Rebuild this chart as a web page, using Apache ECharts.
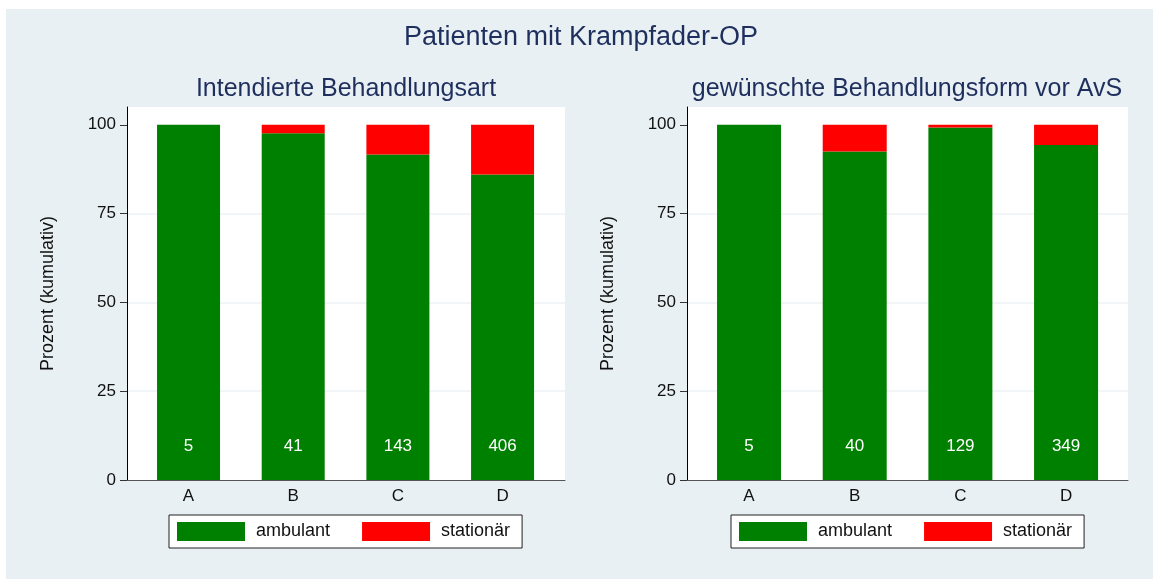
<!DOCTYPE html>
<html>
<head>
<meta charset="utf-8">
<title>Patienten mit Krampfader-OP</title>
<script src="https://cdn.jsdelivr.net/npm/echarts@6/dist/echarts.min.js"></script>
<style>
  html, body { margin: 0; padding: 0; background: #ffffff; }
  #chart { width: 1153px; height: 579px; }
</style>
</head>
<body>
<div id="chart"></div>
<script>
// Groups on the horizontal axis
const categories = ['A', 'B', 'C', 'D'];
const yTicks = [0, 25, 50, 75, 100];

// Panel 1: intended type of treatment (percent, cumulative)
const intAmbulant = [100, 97.6, 91.6, 86.0];
const intStationaer = [0, 2.4, 8.4, 14.0];
const intCounts = [5, 41, 143, 406];

// Panel 2: preferred treatment before AvS (percent, cumulative)
const wunschAmbulant = [100, 92.5, 99.2, 94.3];
const wunschStationaer = [0, 7.5, 0.8, 5.7];
const wunschCounts = [5, 40, 129, 349];

const FONT = '"Liberation Sans", Arial, Helvetica, sans-serif';
const NAVY = '#1e2f5e';
const GREEN = '#008000';
const RED = '#ff0000';
const BG = '#e9f0f3';

const chart = echarts.init(document.getElementById('chart'), null, { renderer: 'canvas' });

// Each panel: a white plot frame carrying the y axis, plus an inner band for the bars
const TOP = 107, HEIGHT = 373;
const panels = [
  { frameLeft: 127, frameWidth: 438, barLeft: 136.2, barWidthPx: 418.7, bar: 63 },
  { frameLeft: 687, frameWidth: 441, barLeft: 696.2, barWidthPx: 422.7, bar: 64 }
];

const grid = [];
const xAxis = [];
const yAxis = [];

panels.forEach((p, k) => {
  // frame grid (index 2k)
  grid.push({ left: p.frameLeft, top: TOP, width: p.frameWidth, height: HEIGHT, show: true, backgroundColor: '#ffffff', borderWidth: 0 });
  // bar grid (index 2k + 1)
  grid.push({ left: p.barLeft, top: TOP, width: p.barWidthPx, height: HEIGHT, show: false });

  xAxis.push({
    type: 'category', gridIndex: 2 * k, data: categories,
    axisLine: { show: true, lineStyle: { color: '#555555', width: 1 } },
    axisTick: { show: false }, axisLabel: { show: false }, splitLine: { show: false }
  });
  xAxis.push({
    type: 'category', gridIndex: 2 * k + 1, data: categories,
    axisLine: { show: false }, axisTick: { show: false }, splitLine: { show: false },
    axisLabel: { fontFamily: FONT, fontSize: 17, color: '#111111', margin: 8 }
  });

  yAxis.push({
    type: 'value', gridIndex: 2 * k, min: 0, max: 105,
    name: 'Prozent (kumulativ)', nameLocation: 'middle', nameGap: 70,
    nameTextStyle: { fontFamily: FONT, fontSize: 18, color: '#111111' },
    axisLine: { show: true, onZero: false, lineStyle: { color: '#000000', width: 1 } },
    axisTick: { show: true, length: 7, customValues: yTicks, lineStyle: { color: '#333333' } },
    axisLabel: { customValues: yTicks, fontFamily: FONT, fontSize: 17, color: '#111111', margin: 11 },
    splitLine: { show: true, showMinLine: false, showMaxLine: false, lineStyle: { color: '#edf2f4', width: 1.5 } }
  });
  yAxis.push({
    type: 'value', gridIndex: 2 * k + 1, min: 0, max: 105, show: false,
    splitLine: { show: false }
  });
});

function barPair(k, amb, stat, counts, width) {
  const ai = 2 * k + 1;
  return [
    {
      name: 'ambulant', type: 'bar', xAxisIndex: ai, yAxisIndex: ai,
      stack: 'p' + k, barWidth: width,
      itemStyle: { color: GREEN },
      label: {
        show: true, position: 'insideBottom', distance: 25,
        formatter: p => String(counts[p.dataIndex]),
        color: '#ffffff', fontFamily: FONT, fontSize: 17
      },
      data: amb
    },
    {
      name: 'stationär', type: 'bar', xAxisIndex: ai, yAxisIndex: ai,
      stack: 'p' + k, barWidth: width,
      itemStyle: { color: RED },
      data: stat
    }
  ];
}

function legendAt(left) {
  return {
    left: left, top: 515,
    orient: 'horizontal',
    data: ['ambulant', 'stationär'],
    itemWidth: 68, itemHeight: 19, itemGap: 32,
    icon: 'rect',
    padding: [7, 12, 7, 8],
    backgroundColor: '#ffffff',
    borderColor: '#222222', borderWidth: 1,
    textStyle: { fontFamily: FONT, fontSize: 18, color: '#111111', padding: [0, 0, 0, 6], lineHeight: 19 },
    selectedMode: false
  };
}

chart.setOption({
  animation: false,
  backgroundColor: '#ffffff',
  graphic: [
    { type: 'rect', z: -10, silent: true, shape: { x: 6, y: 9, width: 1147, height: 570 }, style: { fill: BG } },
    { type: 'text', x: 581, y: 38, style: { text: 'Patienten mit Krampfader-OP', fontFamily: FONT, fontSize: 27, fill: NAVY, align: 'center', verticalAlign: 'middle' } },
    { type: 'text', x: 346, y: 89, style: { text: 'Intendierte Behandlungsart', fontFamily: FONT, fontSize: 25, fill: NAVY, align: 'center', verticalAlign: 'middle' } },
    { type: 'text', x: 907, y: 89, style: { text: 'gewünschte Behandlungsform vor AvS', fontFamily: FONT, fontSize: 25, fill: NAVY, align: 'center', verticalAlign: 'middle' } }
  ],
  grid: grid,
  xAxis: xAxis,
  yAxis: yAxis,
  legend: [legendAt(169), legendAt(731)],
  series: [
    ...barPair(0, intAmbulant, intStationaer, intCounts, panels[0].bar),
    ...barPair(1, wunschAmbulant, wunschStationaer, wunschCounts, panels[1].bar)
  ]
});
</script>
</body>
</html>
